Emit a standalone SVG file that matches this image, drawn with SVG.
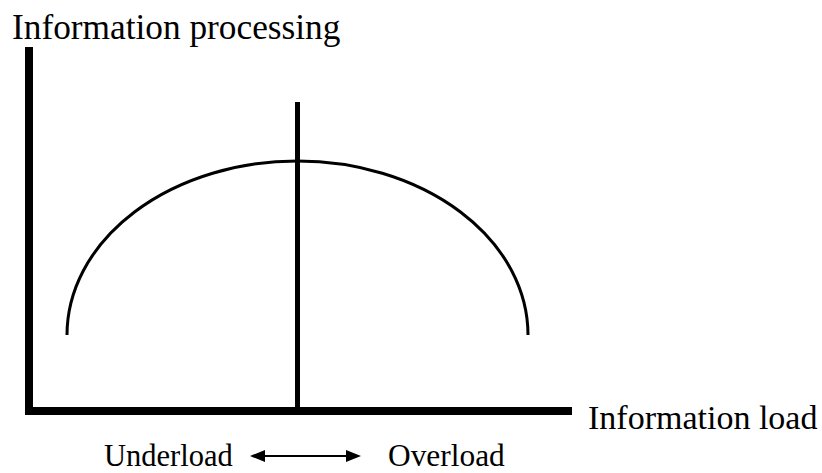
<svg xmlns="http://www.w3.org/2000/svg" width="822" height="473" viewBox="0 0 822 473">
<defs>
<style>
text{font-family:"Liberation Serif","Times New Roman",serif;fill:#000}
.axis{fill:#000}
.curve{fill:none;stroke:#000;stroke-width:3}
</style>
</defs>
<rect width="822" height="473" fill="#fff"/>
<g id="axes">
<rect class="axis" x="25" y="47" width="8" height="368"/>
<rect class="axis" x="25" y="407" width="547" height="8"/>
</g>
<g id="curve">
<path class="curve" d="M67,335 A230.5,174 0 0 1 528,335"/>
</g>
<g id="divider">
<rect class="axis" x="295" y="102" width="5" height="309"/>
</g>
<g id="connectors">
<line x1="262" y1="456" x2="349" y2="456" stroke="#000" stroke-width="2"/>
<polygon points="250,456 265,450 265,462" fill="#000"/>
<polygon points="361,456 346,450 346,462" fill="#000"/>
</g>
<g id="labels">
<text x="104" y="466" font-size="30.5">Underload</text>
<text x="388" y="466" font-size="31.4">Overload</text>
<text x="12" y="39" font-size="35.3">Information processing</text>
<text x="588" y="429" font-size="34">Information load</text>
</g>
</svg>
